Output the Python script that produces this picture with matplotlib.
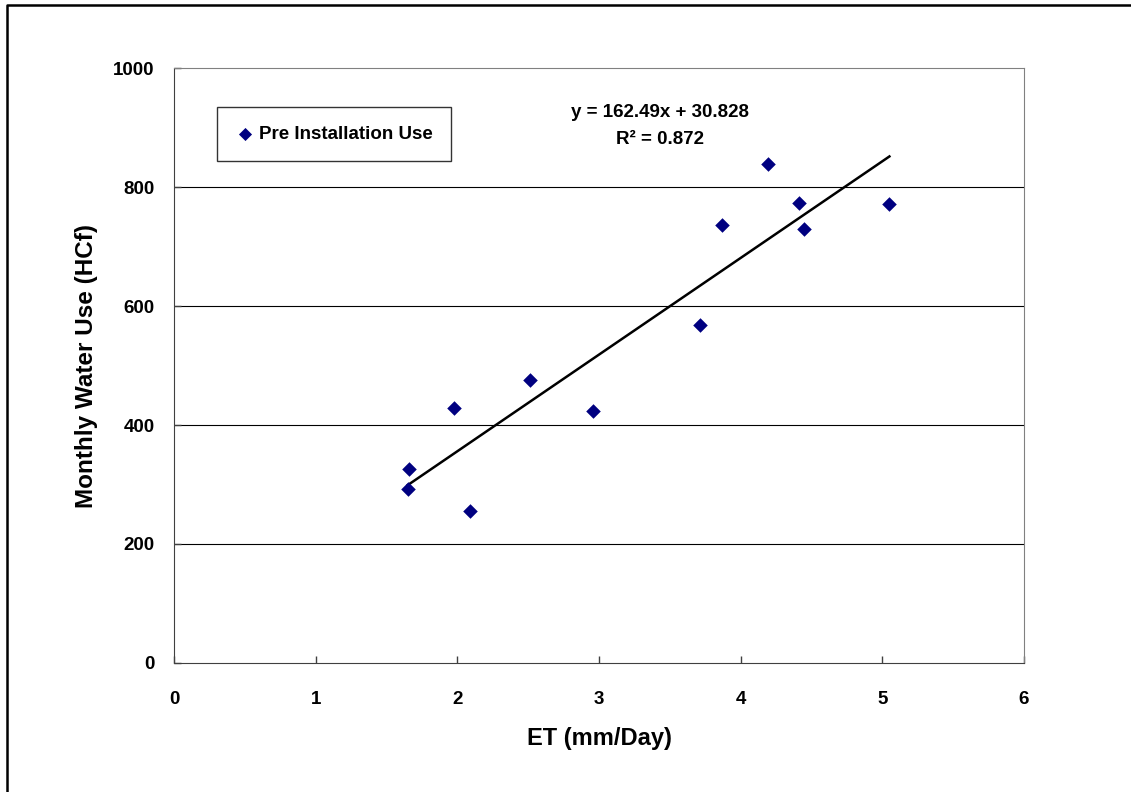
import matplotlib.pyplot as plt
from matplotlib.lines import Line2D
import numpy as np

plt.rcParams['font.family'] = ['Liberation Sans', 'DejaVu Sans']
plt.rcParams['font.weight'] = 'bold'

# ET (mm/day) vs monthly water use (HCf)
et = [1.66, 1.65, 1.98, 2.09, 2.51, 2.96, 3.71, 3.87, 4.19, 4.41, 4.45, 5.05]
use = [326, 292, 429, 256, 476, 424, 568, 736, 839, 773, 729, 771]

slope = 162.49
intercept = 30.828
r2 = 0.872

xticks = [0, 1, 2, 3, 4, 5, 6]
yticks = [0, 200, 400, 600, 800, 1000]

fig = plt.figure(figsize=(11.31, 7.92), dpi=100)
# outer chart border (only left and top are visible in the original crop)
fig.lines.append(Line2D([0.0066, 0.0066, 1.0], [0.0, 0.9937, 0.9937], transform=fig.transFigure,
                        color='black', linewidth=1.8))
ax = fig.add_axes([0.1538, 0.1629, 0.7516, 0.7512])

ax.scatter(et, use, marker='D', s=55, color='#000080', zorder=3, linewidths=0,
           label='Pre Installation Use')

xs = np.array([min(et), max(et)])
ax.plot(xs, slope * xs + intercept, color='black', linewidth=1.8, zorder=2)

ax.set_xlim(0, 6)
ax.set_ylim(0, 1000)
ax.set_xticks(xticks)
ax.set_yticks(yticks)
for y in yticks[1:-1]:
    ax.axhline(y, color='black', linewidth=0.8, zorder=1)

for s in ['top', 'right']:
    ax.spines[s].set_color('#808080')
for s in ['left', 'bottom']:
    ax.spines[s].set_color('#404040')
ax.tick_params(direction='in', length=5, width=1, labelsize=13.5, colors='#404040',
               labelcolor='black')
ax.tick_params(axis='x', pad=20)
ax.tick_params(axis='y', pad=14)

ax.set_xlabel('ET (mm/Day)', fontsize=17, fontweight='bold', labelpad=14)
ax.set_ylabel('Monthly Water Use (HCf)', fontsize=17.5, fontweight='bold', labelpad=11)

ax.text(3.43, 902, f'y = {slope}x + {intercept}\nR\u00b2 = {r2}', ha='center', va='center',
        fontsize=13.5, fontweight='bold', linespacing=1.75)

leg = ax.legend(loc='upper left', bbox_to_anchor=(0.051, 0.935), fontsize=13.5, frameon=True,
                fancybox=False, edgecolor='black', handletextpad=0.2, markerscale=0.9,
                borderpad=1.0, handlelength=1.0, borderaxespad=0)
leg.get_frame().set_linewidth(1.0)

fig.savefig('out.png', dpi=100)
